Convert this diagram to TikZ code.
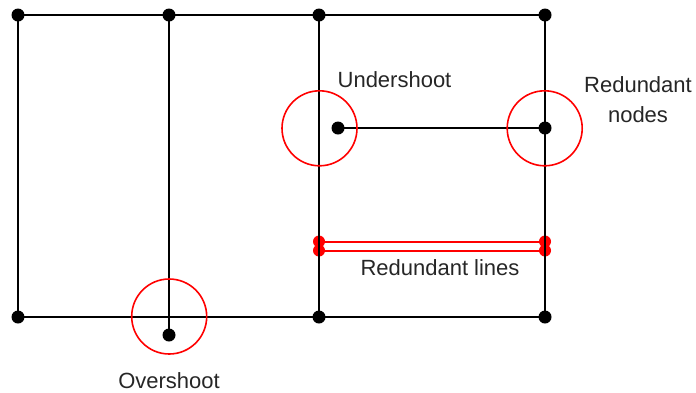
\documentclass[tikz,border=0pt]{standalone}
\usepackage{fontspec}
\setmainfont{Liberation Sans}
\begin{document}
\begin{tikzpicture}[x=1pt,y=-1pt,
  dot/.style={circle,fill=black,inner sep=0pt,minimum size=13pt},
  reddot/.style={circle,fill=red,inner sep=0pt,minimum size=12pt},
  ring/.style={circle,draw=red,line width=1.6pt,inner sep=0pt,minimum size=75pt},
  edge/.style={draw=black,line width=2pt},
  redge/.style={draw=red,line width=2pt},
  lbl/.style={font=\fontsize{22}{30}\selectfont,text=black!85,inner sep=0pt,align=center}]
\useasboundingbox (0,0) rectangle (696,392);
% red redundant lines
\node[reddot] (r1) at (319,241.5) {};
\node[reddot] (r2) at (319,250.5) {};
\node[reddot] (r3) at (545,241.5) {};
\node[reddot] (r4) at (545,250.5) {};
\path[redge] (r1.center) -- (r3.center);
\path[redge] (r2.center) -- (r4.center);
% black nodes
\node[dot] (a1) at (18,15) {};
\node[dot] (a2) at (169,15) {};
\node[dot] (a3) at (319,15) {};
\node[dot] (a4) at (545,15) {};
\node[dot] (b1) at (18,317) {};
\coordinate (b2) at (169,317);
\node[dot] (b3) at (319,317) {};
\node[dot] (b4) at (545,317) {};
\node[dot] (ov) at (169,335) {};
\node[dot] (un) at (338,128) {};
\node[dot] (rn) at (545,128) {};
% black lines
\path[edge] (a1.center) -- (a4.center);
\path[edge] (b1.center) -- (b4.center);
\path[edge] (a1.center) -- (b1.center);
\path[edge] (a2.center) -- (ov.center);
\path[edge] (a3.center) -- (b3.center);
\path[edge] (a4.center) -- (b4.center);
\path[edge] (un.center) -- (rn.center);
% red rings
\node[ring] (c1) at (319.5,128.3) {};
\node[ring] (c2) at (544.7,128.3) {};
\node[ring] (c3) at (169.2,316.5) {};
% labels
\node[lbl] (t1) at (394.5,80) {Undershoot};
\node[lbl] (t2) at (638,100) {Redundant\\nodes};
\node[lbl] (t3) at (440,268) {Redundant lines};
\node[lbl] (t4) at (169,381) {Overshoot};
\end{tikzpicture}
\end{document}
